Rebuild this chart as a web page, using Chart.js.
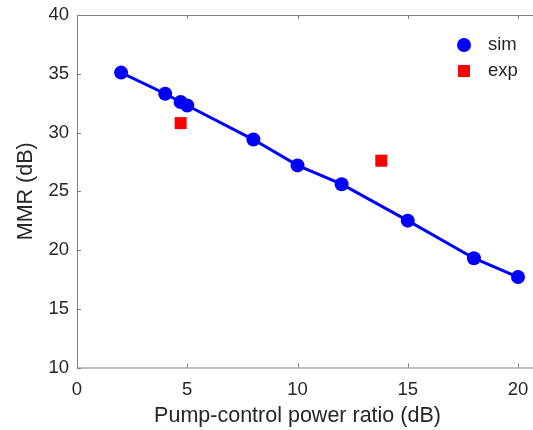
<!DOCTYPE html>
<html>
<head>
<meta charset="utf-8">
<script src="https://cdn.jsdelivr.net/npm/chart.js@4.4.0/dist/chart.umd.min.js"></script>
<style>
  html, body { margin: 0; padding: 0; background: #fff; }
  #wrap { width: 533px; height: 430px; }
</style>
</head>
<body>
<div id="wrap"><canvas id="chart" width="533" height="430"></canvas></div>
<script>
// Data
const simX = [2, 4, 4.7, 5, 8, 10, 12, 15, 18, 20];
const simY = [35.1, 33.3, 32.6, 32.3, 29.4, 27.2, 25.6, 22.5, 19.3, 17.7];
const expX = [4.7, 13.8];
const expY = [30.8, 27.6];
const xTicks = [0, 5, 10, 15, 20];
const yTicks = [10, 15, 20, 25, 30, 35, 40];
const seriesNames = ['sim', 'exp'];

const FONT = "'Liberation Sans', Arial, sans-serif";
const TEXT = '#262626';
const AXIS = '#808080';
const BLUE = '#0000ff';
const RED = '#ff0000';

// MATLAB-like box: inward ticks, top line, lines running to the canvas edge
const boxAxes = {
  id: 'boxAxes',
  afterDraw(chart) {
    const { ctx, chartArea: a, scales: { x, y } } = chart;
    const w = chart.width;
    ctx.save();
    ctx.strokeStyle = AXIS;
    ctx.lineWidth = 1;
    ctx.beginPath();
    ctx.moveTo(a.left + 0.5, a.top + 0.5);
    ctx.lineTo(a.left + 0.5, a.bottom + 0.5);
    ctx.moveTo(a.left, a.bottom + 0.5);
    ctx.lineTo(w, a.bottom + 0.5);
    ctx.moveTo(a.left, a.top + 0.5);
    ctx.lineTo(w, a.top + 0.5);
    xTicks.forEach(v => {
      const px = Math.round(x.getPixelForValue(v)) + 0.5;
      ctx.moveTo(px, a.bottom);
      ctx.lineTo(px, a.bottom - 4);
      ctx.moveTo(px, a.top);
      ctx.lineTo(px, a.top + 4);
    });
    yTicks.forEach(v => {
      const py = Math.round(y.getPixelForValue(v)) + 0.5;
      ctx.moveTo(a.left, py);
      ctx.lineTo(a.left + 4, py);
    });
    ctx.stroke();
    ctx.restore();
  }
};

// legend inside the axes, top right
const innerLegend = {
  id: 'innerLegend',
  afterDatasetsDraw(chart) {
    const { ctx, chartArea: a } = chart;
    const mx = a.right - 54;
    const tx = a.right - 30;
    const rows = [a.top + 30, a.top + 56];
    ctx.save();
    ctx.fillStyle = BLUE;
    ctx.beginPath();
    ctx.arc(mx, rows[0], 7, 0, Math.PI * 2);
    ctx.fill();
    ctx.fillStyle = RED;
    ctx.fillRect(mx - 6, rows[1] - 6, 12, 12);
    ctx.fillStyle = TEXT;
    ctx.font = '18.5px ' + FONT;
    ctx.textBaseline = 'middle';
    ctx.textAlign = 'left';
    ctx.fillText(seriesNames[0], tx, rows[0]);
    ctx.fillText(seriesNames[1], tx, rows[1]);
    ctx.restore();
  }
};

new Chart(document.getElementById('chart'), {
  type: 'scatter',
  data: {
    datasets: [
      {
        label: seriesNames[0],
        data: simX.map((v, i) => ({ x: v, y: simY[i] })),
        showLine: true,
        borderColor: BLUE,
        borderWidth: 3,
        backgroundColor: BLUE,
        pointRadius: 7,
        pointBorderWidth: 0,
        clip: false
      },
      {
        label: seriesNames[1],
        data: expX.map((v, i) => ({ x: v, y: expY[i] })),
        pointStyle: 'rect',
        backgroundColor: RED,
        borderColor: RED,
        pointRadius: 8.5,
        pointBorderWidth: 0,
        clip: false
      }
    ]
  },
  options: {
    responsive: false,
    animation: false,
    devicePixelRatio: 1,
    layout: { padding: { top: 15, right: 15, left: 0, bottom: 0 } },
    plugins: {
      legend: { display: false },
      tooltip: { enabled: false }
    },
    scales: {
      x: {
        type: 'linear',
        min: 0,
        max: 20,
        afterBuildTicks: s => { s.ticks = xTicks.map(v => ({ value: v })); },
        afterFit: s => { s.height = 62.5; s.paddingLeft = 0; s.paddingRight = 0; },
        grid: { display: false, drawTicks: false },
        border: { display: false },
        ticks: { color: TEXT, font: { family: FONT, size: 18.5 }, padding: 11, maxRotation: 0 },
        title: {
          display: true,
          text: 'Pump-control power ratio (dB)',
          color: TEXT,
          font: { family: FONT, size: 21.5 },
          padding: { top: 0, bottom: 1 }
        }
      },
      y: {
        type: 'linear',
        min: 10,
        max: 40,
        afterBuildTicks: s => { s.ticks = yTicks.map(v => ({ value: v })); },
        afterFit: s => { s.width = 77; s.paddingTop = 0; s.paddingBottom = 0; },
        grid: { display: false, drawTicks: false },
        border: { display: false },
        ticks: { color: TEXT, font: { family: FONT, size: 18.5 }, padding: 8 },
        title: {
          display: true,
          text: 'MMR (dB)',
          color: TEXT,
          font: { family: FONT, size: 21.5 },
          padding: { top: 13, bottom: 0 }
        }
      }
    }
  },
  plugins: [boxAxes, innerLegend]
});
</script>
</body>
</html>
